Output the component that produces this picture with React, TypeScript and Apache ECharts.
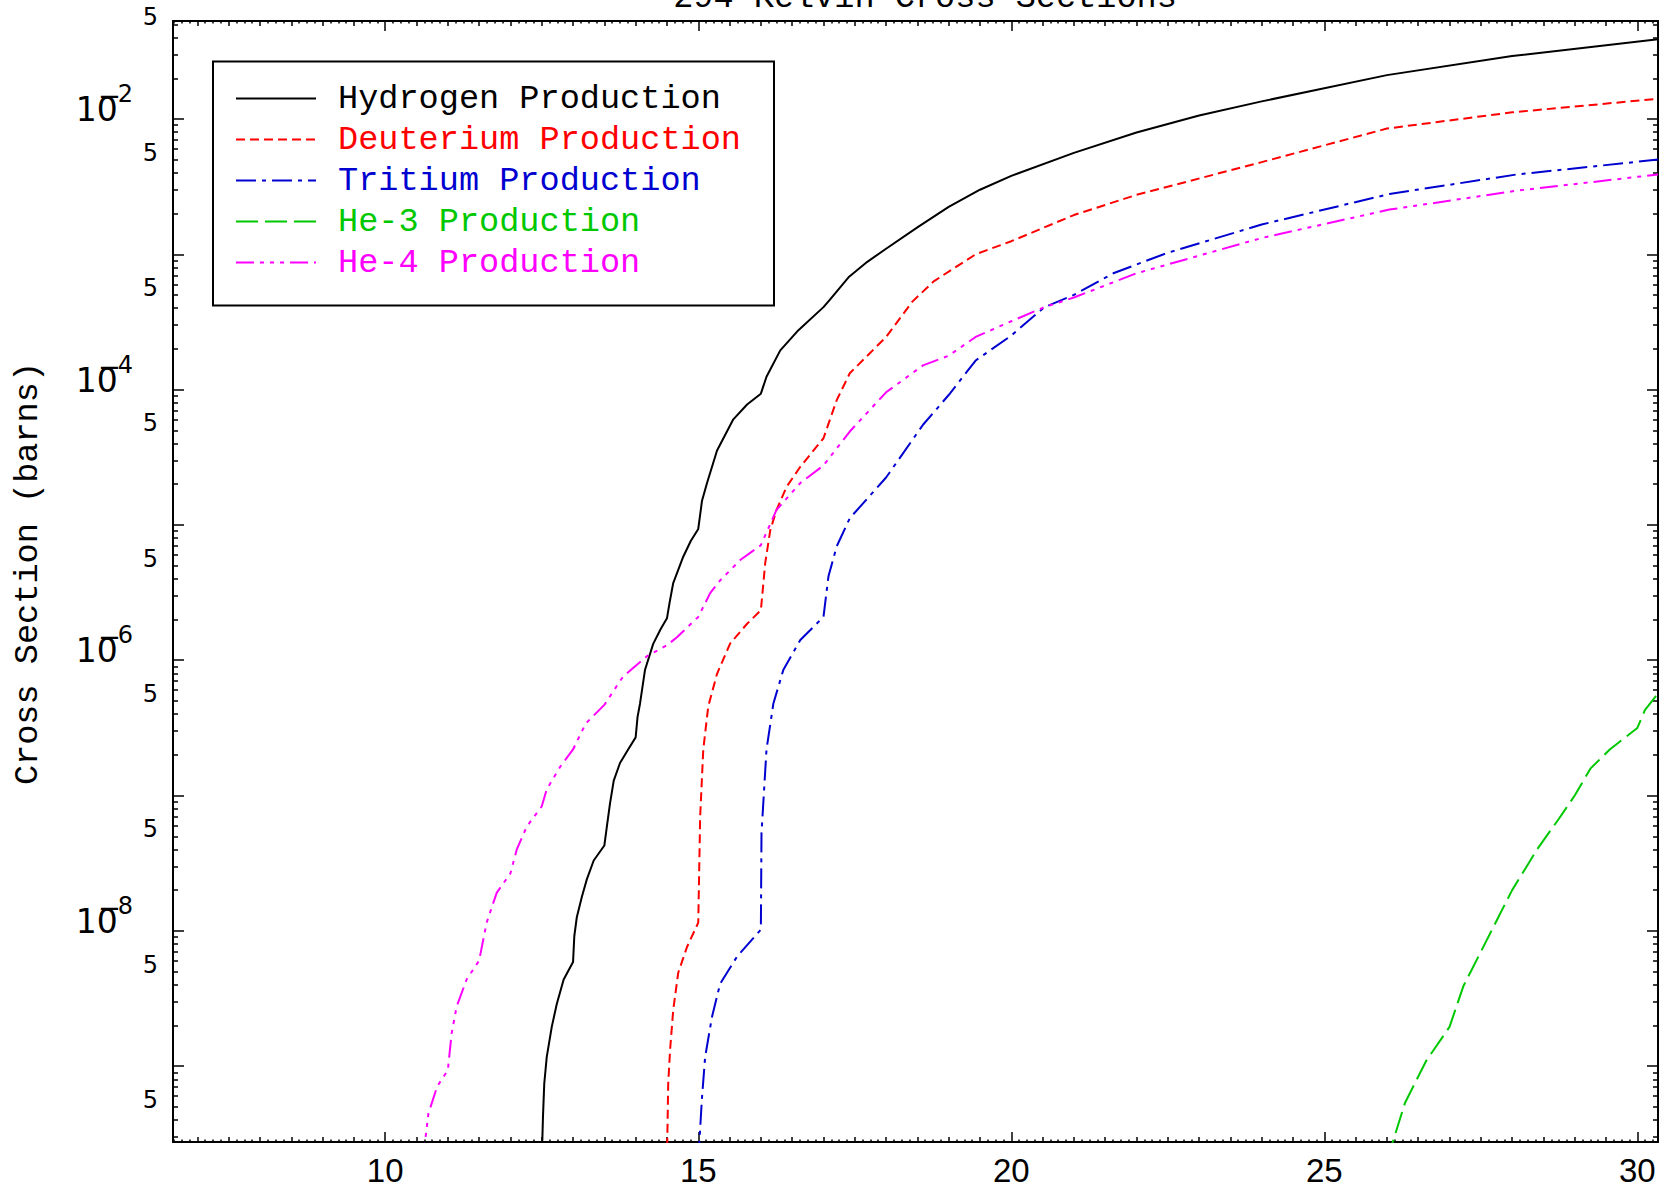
import React, { useEffect, useRef } from "react";
import * as echarts from "echarts";

// ---------------- data ----------------
const seriesNames = [
  "Hydrogen Production",
  "Deuterium Production",
  "Tritium Production",
  "He-3 Production",
  "He-4 Production",
];
const seriesColors = ["#000000", "#ff0000", "#0000d0", "#00c800", "#ff00ff"];

// [energy, cross section (barns)]
const hydrogen: [number, number][] = [
  [12.5, 2e-10], [12.52, 4.27e-10], [12.54, 7.41e-10], [12.58, 1.17e-9], [12.66, 1.95e-9],
  [12.74, 2.88e-9], [12.85, 4.37e-9], [13.0, 5.89e-9], [13.02, 9.12e-9], [13.06, 1.26e-8],
  [13.14, 1.78e-8], [13.22, 2.4e-8], [13.33, 3.31e-8], [13.5, 4.27e-8], [13.54, 5.89e-8],
  [13.59, 8.71e-8], [13.65, 1.29e-7], [13.75, 1.74e-7], [13.88, 2.19e-7], [14.0, 2.69e-7],
  [14.03, 3.8e-7], [14.07, 4.79e-7], [14.15, 8.51e-7], [14.28, 1.32e-6], [14.4, 1.7e-6],
  [14.5, 2.04e-6], [14.54, 2.63e-6], [14.6, 3.72e-6], [14.76, 5.82e-6], [14.88, 7.6e-6],
  [15.0, 9.33e-6], [15.06, 1.51e-5], [15.14, 2.04e-5], [15.3, 3.55e-5], [15.56, 6.03e-5],
  [15.78, 7.76e-5], [16.0, 9.33e-5], [16.09, 1.245e-4], [16.31, 1.95e-4], [16.6, 2.75e-4],
  [17.0, 4.07e-4], [17.1, 4.6e-4], [17.4, 6.76e-4], [17.7, 8.8e-4], [18.0, 1.1e-3],
  [18.5, 1.58e-3], [19.0, 2.24e-3], [19.5, 3.0e-3], [20.0, 3.8e-3], [21.0, 5.62e-3],
  [22.0, 7.94e-3], [23.0, 1.06e-2], [24.0, 1.35e-2], [26.0, 2.11e-2], [28.0, 2.92e-2],
  [30.33, 3.89e-2],
];
const deuterium: [number, number][] = [
  [14.5, 2e-10], [14.52, 7.41e-10], [14.55, 1.32e-9], [14.6, 2.6e-9], [14.68, 4.9e-9],
  [14.82, 7.59e-9], [15.0, 1.15e-8], [15.03, 6.92e-8], [15.08, 2.19e-7], [15.16, 4.57e-7],
  [15.3, 7.94e-7], [15.51, 1.33e-6], [15.78, 1.86e-6], [16.0, 2.34e-6], [16.07, 5.25e-6],
  [16.15, 9.12e-6], [16.25, 1.29e-5], [16.41, 1.91e-5], [16.63, 2.69e-5], [17.0, 4.37e-5],
  [17.21, 8.32e-5], [17.42, 1.32e-4], [18.0, 2.45e-4], [18.42, 4.47e-4], [18.76, 6.31e-4],
  [19.43, 1.0e-3], [20.0, 1.25e-3], [21.0, 1.95e-3], [22.0, 2.75e-3], [24.0, 4.8e-3],
  [26.0, 8.5e-3], [28.0, 1.12e-2], [30.33, 1.41e-2],
];
const tritium: [number, number][] = [
  [15.0, 2e-10], [15.06, 5.89e-10], [15.11, 1.17e-9], [15.22, 2.32e-9], [15.35, 4.07e-9],
  [15.62, 6.46e-9], [16.0, 1.02e-8], [16.01, 5.25e-8], [16.09, 2.19e-7], [16.2, 4.79e-7],
  [16.36, 8.51e-7], [16.63, 1.41e-6], [17.0, 2.09e-6], [17.08, 4.17e-6], [17.21, 6.92e-6],
  [17.42, 1.12e-5], [18.0, 2.24e-5], [18.59, 5.5e-5], [19.0, 9.12e-5], [19.43, 1.64e-4],
  [20.0, 2.51e-4], [20.53, 4.07e-4], [21.0, 5.01e-4], [21.63, 7.24e-4], [22.48, 1.02e-3],
  [24.0, 1.66e-3], [26.04, 2.79e-3], [28.07, 3.89e-3], [30.33, 5.01e-3],
];
const he3: [number, number][] = [
  [26.0, 2e-10], [26.29, 5.37e-10], [26.63, 1.1e-9], [27.0, 1.95e-9], [27.22, 3.89e-9],
  [27.56, 7.94e-9], [28.0, 2.0e-8], [28.41, 4.07e-8], [28.75, 6.76e-8], [29.0, 1.0e-7],
  [29.25, 1.58e-7], [29.56, 2.19e-7], [30.0, 3.16e-7], [30.12, 4.27e-7], [30.33, 5.69e-7],
];
const he4: [number, number][] = [
  [10.6, 2e-10], [10.69, 4.47e-10], [10.83, 7.08e-10], [11.0, 9.33e-10], [11.06, 1.74e-9],
  [11.14, 2.75e-9], [11.3, 4.37e-9], [11.5, 6.03e-9], [11.62, 1.15e-8], [11.78, 1.91e-8],
  [12.0, 2.66e-8], [12.1, 3.98e-8], [12.26, 5.89e-8], [12.5, 8.32e-8], [12.58, 1.11e-7],
  [12.79, 1.62e-7], [13.0, 2.19e-7], [13.2, 3.39e-7], [13.5, 4.68e-7], [13.8, 7.59e-7],
  [14.18, 1.07e-6], [14.5, 1.29e-6], [14.66, 1.48e-6], [15.0, 2.09e-6], [15.19, 3.13e-6],
  [15.35, 3.89e-6], [15.67, 5.5e-6], [16.0, 7.08e-6], [16.25, 1.29e-5], [16.63, 2.04e-5],
  [17.0, 2.75e-5], [17.42, 4.9e-5], [18.0, 9.55e-5], [18.59, 1.51e-4], [19.0, 1.78e-4],
  [19.43, 2.45e-4], [20.0, 3.2e-4], [20.53, 4.07e-4], [21.0, 4.79e-4], [22.0, 7.24e-4],
  [24.0, 1.32e-3], [26.04, 2.14e-3], [28.07, 2.95e-3], [30.33, 3.89e-3],
];
const seriesData = [hydrogen, deuterium, tritium, he3, he4];

// tick labels
const xLabelValues = [10, 15, 20, 25, 30];
const yDecadeLabelValues = [1e-2, 1e-4, 1e-6, 1e-8];
const yFiveLabelValues = [5e-2, 5e-3, 5e-4, 5e-5, 5e-6, 5e-7, 5e-8, 5e-9, 5e-10];

const titleText = "294 Kelvin Cross Sections";
const yAxisName = "Cross Section (barns)";

// axis ranges
const X_MIN = 6.61;
const X_MAX = 30.33;
const Y_MIN = 2.75e-10;
const Y_MAX = 0.053;

// ---------------- ticks ----------------
function steps(a: number, b: number, s: number): number[] {
  const out: number[] = [];
  const n = Math.round((b - a) / s);
  for (let i = 0; i <= n; i++) out.push(+(a + i * s).toFixed(4));
  return out;
}
const xMajorTicks = steps(5, 30, 5);
const xHalfTicks = steps(6.5, 30.5, 0.5).filter((v) => Math.abs(v % 5) > 1e-6);
const xEighthTicks = steps(6.5, 30.5, 0.125).filter((v) => Math.abs(v % 0.5) > 1e-6);
const yDecadeTicks: number[] = [];
const yMinorTicks: number[] = [];
for (let e = -11; e <= -1; e++) {
  yDecadeTicks.push(Number(`1e${e}`));
  for (let m = 2; m <= 9; m++) yMinorTicks.push(Number(`${m}e${e}`));
}

const MONO = "'Liberation Mono', 'DejaVu Sans Mono', monospace";
const SANS = "'DejaVu Sans', 'Liberation Sans', sans-serif";
const BLACK = "#000000";
const dashes: (number[] | "solid")[] = [
  "solid",
  [9, 5],
  [20, 6, 4, 6],
  [22, 7],
  [18, 6, 4, 6, 4, 6, 4, 6],
];

function xAxisDef(position: "top" | "bottom", ticks: number[], len: number, main: boolean, labels: boolean) {
  return {
    type: "value",
    min: X_MIN,
    max: X_MAX,
    position,
    axisLine: { show: main, onZero: false, lineStyle: { color: BLACK, width: 2 } },
    axisTick: { show: true, inside: true, length: len, customValues: ticks, lineStyle: { color: BLACK, width: 1.5 } },
    axisLabel: labels
      ? { show: true, customValues: xLabelValues, margin: 12, fontSize: 33, fontFamily: "'Liberation Sans', sans-serif", color: BLACK }
      : { show: false },
    splitLine: { show: false },
  };
}

function yAxisDef(position: "left" | "right", ticks: number[], len: number, main: boolean, extra: any) {
  return {
    type: "log",
    logBase: 10,
    min: Y_MIN,
    max: Y_MAX,
    position,
    axisLine: { show: main, onZero: false, lineStyle: { color: BLACK, width: 2 } },
    axisTick: { show: true, inside: true, length: len, customValues: ticks, lineStyle: { color: BLACK, width: 1.5 } },
    axisLabel: { show: false },
    splitLine: { show: false },
    minorTick: { show: false },
    ...extra,
  };
}

export default function App() {
  const ref = useRef<HTMLDivElement>(null);
  useEffect(() => {
    if (!ref.current) return;
    const chart = echarts.init(ref.current, null, { renderer: "svg" });
    const option: any = {
      animation: false,
      backgroundColor: "#ffffff",
      grid: { left: 173, top: 21, width: 1485, height: 1121, containLabel: false, outerBoundsMode: "none" },
      xAxis: [
        xAxisDef("bottom", xMajorTicks, 10, true, true),
        xAxisDef("bottom", xHalfTicks, 5, false, false),
        xAxisDef("bottom", xEighthTicks, 2.5, false, false),
        xAxisDef("top", xMajorTicks, 10, true, false),
        xAxisDef("top", xHalfTicks, 5, false, false),
        xAxisDef("top", xEighthTicks, 2.5, false, false),
      ],
      yAxis: [
        yAxisDef("left", yDecadeTicks, 11, true, {
          name: yAxisName,
          nameLocation: "middle",
          nameRotate: 90,
          nameGap: 128,
          nameMoveOverlap: false,
          nameTextStyle: { fontFamily: MONO, fontSize: 33.6, color: BLACK, padding: [0, 0, 0, 16] },
          axisLabel: {
            show: true,
            customValues: yDecadeLabelValues,
            margin: 40,
            padding: [0, 0, 19, 0],
            formatter: (v: number) => `{b|10\u0305}{s|${-Math.round(Math.log10(v))}}`,
            rich: {
              b: { fontSize: 33, lineHeight: 33, fontFamily: SANS, color: BLACK, verticalAlign: "bottom" },
              s: { fontSize: 24, lineHeight: 24, fontFamily: SANS, color: BLACK, padding: [0, 0, 20, 0], verticalAlign: "bottom" },
            },
          },
        }),
        yAxisDef("left", yMinorTicks, 5, false, {
          axisLabel: {
            show: true,
            customValues: yFiveLabelValues,
            margin: 15,
            formatter: () => "{f|5}",
            rich: {
              f: { fontSize: 24, lineHeight: 24, fontFamily: SANS, color: BLACK, padding: [0, 0, 14, 0] },
            },
          },
        }),
        yAxisDef("right", yDecadeTicks, 11, true, {}),
        yAxisDef("right", yMinorTicks, 5, false, {}),
      ],
      legend: {
        orient: "vertical",
        left: 213,
        top: 61.5,
        padding: [20, 33, 26, 22],
        borderColor: BLACK,
        borderWidth: 2,
        itemWidth: 80,
        itemHeight: 20,
        itemGap: 7,
        selectedMode: false,
        itemStyle: { opacity: 0 },
        textStyle: { fontFamily: MONO, fontSize: 33.6, padding: [0, 0, 0, 17] },
        data: seriesNames.map((n, i) => ({ name: n, textStyle: { color: seriesColors[i] } })),
      },
      graphic: [
        {
          type: "text",
          x: 925,
          y: 15,
          style: {
            text: titleText,
            fontFamily: MONO,
            fontSize: 33.6,
            fill: BLACK,
            align: "center",
            verticalAlign: "bottom",
            textAlign: "center",
            textVerticalAlign: "bottom",
          },
        },
      ],
      series: seriesNames.map((n, i) => ({
        name: n,
        type: "line",
        xAxisIndex: 0,
        yAxisIndex: 0,
        data: seriesData[i],
        showSymbol: false,
        symbol: "none",
        clip: true,
        silent: true,
        lineStyle: { color: seriesColors[i], width: 2, type: dashes[i] },
        itemStyle: { color: seriesColors[i] },
      })),
    };
    chart.setOption(option);
    return () => chart.dispose();
  }, []);
  return (
    <div
      ref={ref}
      style={{ position: "fixed", left: 0, top: 0, width: 1663, height: 1191, background: "#fff" }}
    />
  );
}
